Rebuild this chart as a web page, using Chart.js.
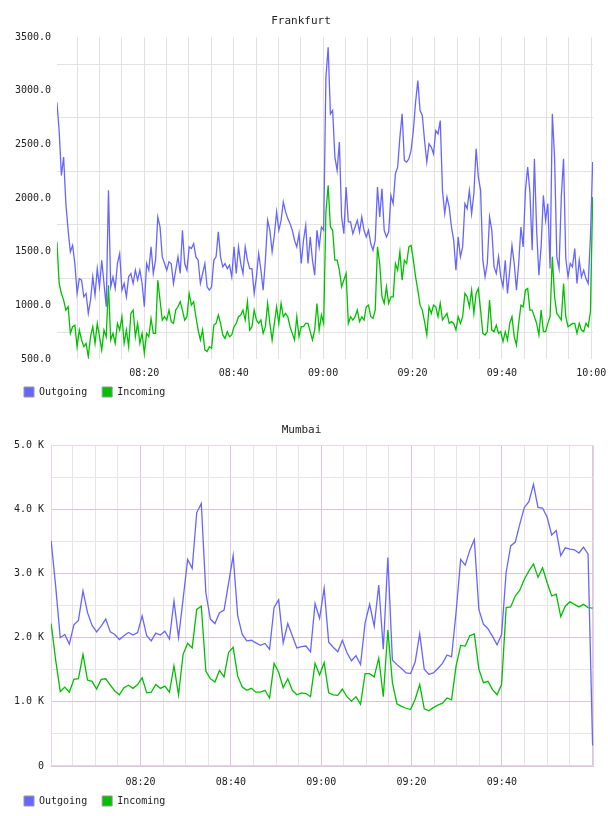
<!DOCTYPE html>
<html>
<head>
<meta charset="utf-8">
<title>Traffic</title>
<script src="https://cdn.jsdelivr.net/npm/chart.js@4.4.0/dist/chart.umd.min.js"></script>
<style>
  body { margin: 0; background: #fff; overflow: hidden; width: 608px; height: 816px; position: relative; }
  canvas { position: absolute; left: 0; }
  #frankfurt { top: 0; }
  #mumbai { top: 400px; }
</style>
</head>
<body>
<canvas id="frankfurt" width="608" height="414"></canvas>
<canvas id="mumbai" width="608" height="423"></canvas>
<script>
// sample times are minutes after 08:00
let frankStart = 0.45;
let frankStep = 0.5015;
let frankOutgoing = [
  2893, 2630, 2211, 2382, 1948, 1700, 1500, 1560, 1390, 1111,
  1250, 1235, 1080, 1111, 925, 1049, 1266, 1095, 1343, 1173,
  1421, 1204, 987, 2072, 1173, 1266, 1158, 1390, 1483, 1142,
  1204, 1080, 1266, 1297, 1204, 1328, 1235, 1328, 1204, 987,
  1390, 1328, 1545, 1297, 1421, 1824, 1731, 1452, 1390, 1328,
  1405, 1390, 1204, 1328, 1452, 1297, 1700, 1390, 1328, 1545,
  1530, 1576, 1452, 1421, 1204, 1297, 1390, 1173, 1142, 1173,
  1421, 1452, 1685, 1452, 1359, 1390, 1343, 1374, 1266, 1545,
  1297, 1545, 1390, 1297, 1545, 1421, 1343, 1343, 1111, 1266,
  1483, 1328, 1142, 1421, 1793, 1700, 1499, 1654, 1871, 1700,
  1793, 1964, 1871, 1809, 1762, 1700, 1607, 1545, 1669, 1390,
  1607, 1747, 1390, 1638, 1421, 1281, 1700, 1545, 1731, 1700,
  3126, 3405, 2785, 2816, 2382, 2258, 2522, 1824, 1669, 2103,
  1778, 1778, 1669, 1731, 1793, 1685, 1824, 1700, 1638, 1700,
  1576, 1514, 1607, 2103, 1824, 2088, 1700, 1638, 1685, 2025,
  1948, 2227, 2289, 2568, 2785, 2351, 2336, 2366, 2444, 2630,
  2894, 3095, 2816, 2770, 2537, 2336, 2506, 2475, 2413, 2630,
  2599, 2723, 2072, 1855, 2010, 1917, 1731, 1607, 1328, 1638,
  1452, 1545, 1948, 1902, 2072, 1855, 2041, 2460, 2196, 2072,
  1421, 1266, 1390, 1824, 1700, 1359, 1297, 1452, 1266, 1173,
  1421, 1111, 1328, 1560, 1390, 1142, 1390, 1731, 1545, 2072,
  2289, 2057, 1514, 2366, 1700, 1281, 1545, 2025, 1793, 1948,
  1343, 2785, 2382, 1452, 1343, 2010, 2366, 1437, 1266, 1390,
  1359, 1530, 1204, 1421, 1266, 1328, 1250, 1204, 1638, 2336
];
let frankIncoming = [
  1591, 1204, 1111, 1049, 956, 987, 739, 801, 816, 615,
  770, 677, 615, 646, 522, 708, 801, 646, 832, 708,
  584, 770, 708, 1188, 677, 739, 646, 832, 770, 894,
  646, 770, 615, 925, 956, 708, 832, 646, 739, 553,
  739, 708, 878, 739, 739, 1235, 1049, 863, 894, 863,
  956, 848, 832, 956, 987, 1034, 956, 863, 894, 1111,
  1002, 1034, 894, 770, 677, 770, 584, 569, 615, 600,
  816, 832, 910, 832, 724, 692, 755, 708, 724, 801,
  832, 894, 910, 956, 863, 1034, 770, 801, 956, 863,
  832, 863, 739, 801, 1018, 832, 677, 832, 987, 832,
  1018, 894, 925, 894, 801, 739, 677, 894, 708, 801,
  801, 832, 832, 755, 677, 770, 1018, 770, 910, 832,
  1870, 2119, 1731, 1700, 1421, 1421, 1328, 1173, 1235, 1297,
  832, 894, 863, 894, 956, 848, 894, 863, 987, 1002,
  894, 878, 956, 1545, 1390, 1080, 1018, 1173, 1018, 1080,
  1080, 1390, 1328, 1499, 1235, 1421, 1390, 1545, 1560, 1421,
  1266, 1142, 1002, 956, 848, 724, 987, 925, 1002, 987,
  894, 1018, 863, 894, 925, 832, 848, 832, 770, 894,
  832, 894, 1111, 1080, 987, 1142, 925, 1111, 1158, 956,
  739, 724, 755, 1049, 770, 755, 816, 739, 755, 662,
  755, 677, 832, 894, 708, 630, 832, 1002, 987, 1142,
  1158, 956, 956, 894, 832, 724, 956, 755, 755, 832,
  894, 1452, 1080, 925, 894, 863, 1204, 894, 801, 816,
  832, 832, 739, 832, 770, 755, 832, 801, 940, 2010
];

let mumbaiStart = 0.2;
let mumbaiStep = 1.0075;
let mumbaiOutgoing = [
  3510, 2800, 2000, 2050, 1900, 2200, 2270, 2730, 2390, 2190,
  2090, 2180, 2290, 2090, 2050, 1970, 2030, 2080, 2040, 2080,
  2340, 2030, 1950, 2070, 2040, 2100, 1980, 2570, 2000, 2600,
  3220, 3080, 3950, 4090, 2700, 2290, 2220, 2390, 2430, 2850,
  3280, 2340, 2050, 1950, 1960, 1920, 1880, 1910, 1820, 2470,
  2590, 1920, 2220, 2030, 1840, 1860, 1870, 1780, 2530, 2300,
  2770, 1930, 1850, 1780, 1960, 1770, 1640, 1720, 1580, 2230,
  2520, 2180, 2820, 1820, 3250, 1650, 1580, 1520, 1450, 1440,
  1620, 2060, 1510, 1430, 1450, 1520, 1600, 1730, 1700, 2400,
  3220, 3130, 3360, 3530, 2440, 2210, 2140, 2020, 1890, 2050,
  3020, 3430, 3490, 3770, 4030, 4120, 4390, 4030, 4020, 3880,
  3600, 3670, 3280, 3400, 3380, 3370, 3320, 3410, 3300, 320
];
let mumbaiIncoming = [
  2220, 1650, 1160, 1230, 1150, 1350, 1360, 1740, 1340, 1320,
  1200, 1350, 1360, 1260, 1170, 1110, 1220, 1260, 1210, 1270,
  1375, 1140, 1150, 1270, 1210, 1245, 1150, 1560, 1110, 1740,
  1910, 1840, 2440, 2490, 1480, 1360, 1310, 1490, 1390, 1770,
  1850, 1400, 1230, 1180, 1210, 1150, 1150, 1180, 1060, 1600,
  1460, 1220, 1360, 1180, 1110, 1140, 1130, 1080, 1600, 1420,
  1610, 1140, 1110, 1100, 1200, 1080, 1010, 1080, 960, 1440,
  1440, 1390, 1680, 1080, 2120, 1300, 970, 930, 900, 880,
  1040, 1270, 890, 860, 910, 950, 980, 1060, 1030, 1560,
  1880, 1870, 2030, 2060, 1510, 1300, 1320, 1190, 1110, 1270,
  2470, 2480, 2650, 2740, 2910, 3040, 3150, 2940, 3090, 2860,
  2650, 2680, 2330, 2490, 2560, 2520, 2480, 2520, 2470, 2460
];

// tick labels
let frankTimeTicks = [20, 40, 60, 80, 100, 120];
let frankTimeLabels = ["08:20", "08:40", "09:00", "09:20", "09:40", "10:00"];
let mumbaiTimeTicks = [20, 40, 60, 80, 100];
let mumbaiTimeLabels = ["08:20", "08:40", "09:00", "09:20", "09:40"];
let frankValueTicks = [500, 1000, 1500, 2000, 2500, 3000, 3500];
let frankValueLabels = ["500.0", "1000.0", "1500.0", "2000.0", "2500.0", "3000.0", "3500.0"];
let mumbaiValueTicks = [0, 1000, 2000, 3000, 4000, 5000];
let mumbaiValueLabels = ["0", "1.0 K", "2.0 K", "3.0 K", "4.0 K", "5.0 K"];

let outgoingColor = "#6666ff";
let incomingColor = "#00c000";
let fontFamily = "'DejaVu Sans Mono', monospace";
let textColor = "#222";

function toPoints(start, step, values) {
  let points = [];
  for (let i = 0; i < values.length; i++) {
    points.push({ x: start + i * step, y: values[i] });
  }
  return points;
}

function labelFor(value, ticks, labels) {
  let idx = ticks.indexOf(value);
  return idx >= 0 ? labels[idx] : "";
}

// light frame round the plot area (Mumbai only)
let framePlugin = {
  id: "frame",
  beforeDatasetsDraw(chart) {
    let a = chart.chartArea;
    let c = chart.ctx;
    c.save();
    c.strokeStyle = "#e8d6e8";
    c.lineWidth = 1;
    c.strokeRect(Math.round(a.left) + 0.5, Math.round(a.top) + 0.5,
      Math.round(a.right) - Math.round(a.left) - 1, Math.round(a.bottom) - Math.round(a.top) - 1);
    c.restore();
  }
};

// pull the legend up closer to the time labels
let legendShift = {
  id: "legendShift",
  afterLayout(chart, args, opts) {
    chart.legend.top -= opts.dy;
    chart.legend.bottom -= opts.dy;
  }
};

function makeChart(id, o) {
  let ctx = document.getElementById(id).getContext("2d");
  let plugins = [legendShift];
  if (o.frame) {
    plugins.push(framePlugin);
  }
  return new Chart(ctx, {
    type: "line",
    data: {
      datasets: [
        {
          label: "Outgoing",
          data: toPoints(o.start, o.step, o.outgoing),
          borderColor: outgoingColor,
          backgroundColor: outgoingColor,
          borderWidth: 1.3,
          pointRadius: 0,
          tension: 0,
          fill: false,
        },
        {
          label: "Incoming",
          data: toPoints(o.start, o.step, o.incoming),
          borderColor: incomingColor,
          backgroundColor: incomingColor,
          borderWidth: 1.3,
          pointRadius: 0,
          tension: 0,
          fill: false,
        },
      ],
    },
    options: {
      responsive: false,
      animation: false,
      layout: {
        autoPadding: false,
        padding: { left: 9, right: o.padRight, top: 0, bottom: 0 },
      },
      plugins: {
        title: {
          display: true,
          text: o.title,
          color: textColor,
          font: { family: fontFamily, size: 11, weight: "normal" },
          padding: o.titlePadding,
        },
        legend: {
          position: "bottom",
          align: "start",
          labels: {
            boxWidth: 10,
            boxHeight: 10,
            padding: 15,
            color: textColor,
            font: { family: fontFamily, size: 10 },
            generateLabels: (chart) =>
              chart.data.datasets.map((ds, i) => ({
                text: ds.label,
                fillStyle: ds.borderColor,
                strokeStyle: "#999",
                lineWidth: 1,
                fontColor: textColor,
                datasetIndex: i,
              })),
          },
        },
        legendShift: { dy: 7 },
        tooltip: { enabled: false },
      },
      scales: {
        x: {
          type: "linear",
          min: o.xMin,
          max: o.xMax,
          afterFit: (s) => {
            s.height = o.xHeight;
            // the last label may run past the plot edge, like the original
            s.paddingLeft = 0;
            s.paddingRight = 0;
          },
          border: { display: false },
          grid: { color: o.xGrid, drawTicks: false },
          ticks: {
            stepSize: 5,
            maxTicksLimit: 100,
            includeBounds: false,
            autoSkip: false,
            maxRotation: 0,
            padding: o.xPad,
            color: textColor,
            font: { family: fontFamily, size: 10 },
            callback: (v) => labelFor(v, o.timeTicks, o.timeLabels),
          },
        },
        y: {
          min: o.yMin,
          max: o.yMax,
          afterFit: (s) => { s.width = o.yWidth; },
          border: { display: false },
          grid: { color: o.yGrid, drawTicks: false },
          ticks: {
            stepSize: o.yStep,
            maxTicksLimit: 100,
            autoSkip: false,
            padding: o.yPad,
            color: textColor,
            font: { family: fontFamily, size: 10 },
            callback: (v) => labelFor(v, o.valueTicks, o.valueLabels),
          },
        },
      },
    },
    plugins: plugins,
  });
}

makeChart("frankfurt", {
  title: "Frankfurt",
  titlePadding: { top: 15, bottom: 9 },
  start: frankStart,
  step: frankStep,
  outgoing: frankOutgoing,
  incoming: frankIncoming,
  padRight: 15,
  xMin: 0.47,
  xMax: 120.38,
  xHeight: 20,
  xPad: 8,
  xGrid: "#e2e2e2",
  timeTicks: frankTimeTicks,
  timeLabels: frankTimeLabels,
  yMin: 500,
  yMax: 3500,
  yStep: 250,
  yWidth: 48,
  yPad: 6,
  // grid lines sit between the labelled values
  yGrid: (c) => (c.tick.value % 500 === 0 ? "rgba(0,0,0,0)" : "#e2e2e2"),
  valueTicks: frankValueTicks,
  valueLabels: frankValueLabels,
  frame: false,
});

makeChart("mumbai", {
  title: "Mumbai",
  titlePadding: { top: 24, bottom: 8 },
  start: mumbaiStart,
  step: mumbaiStep,
  outgoing: mumbaiOutgoing,
  incoming: mumbaiIncoming,
  padRight: 14,
  xMin: 0.17,
  xMax: 120.4,
  xHeight: 22,
  xPad: 10,
  xGrid: (c) => (c.tick.value % 20 === 0 ? "#dcc4dc" : "#e9e3e9"),
  timeTicks: mumbaiTimeTicks,
  timeLabels: mumbaiTimeLabels,
  yMin: 0,
  yMax: 5000,
  yStep: 500,
  yWidth: 42,
  yPad: 7,
  yGrid: (c) => (c.tick.value % 1000 === 0 ? "#dcc4dc" : "#e9e3e9"),
  valueTicks: mumbaiValueTicks,
  valueLabels: mumbaiValueLabels,
  frame: true,
});
</script>
</body>
</html>
